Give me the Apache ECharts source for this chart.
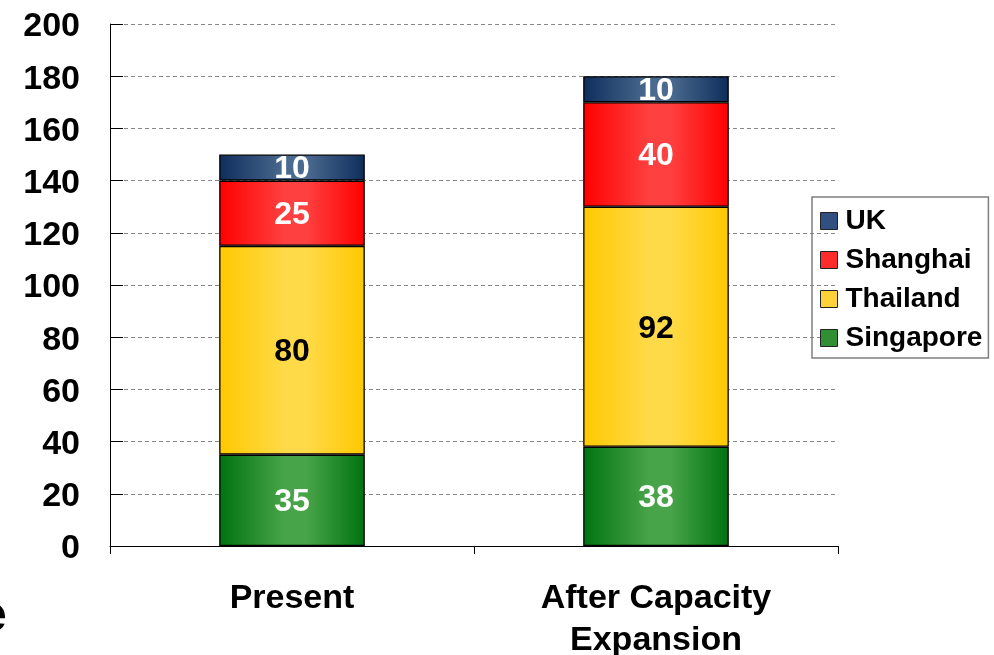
<!DOCTYPE html>
<html>
<head>
<meta charset="utf-8">
<script src="https://cdn.jsdelivr.net/npm/echarts@6/dist/echarts.min.js"></script>
<style>
  html, body { margin: 0; padding: 0; background: #fff; }
  #chart { width: 994px; height: 655px; }
</style>
</head>
<body>
<div id="chart"></div>
<script>
// Capacity by site, stacked per scenario
const categories = ['Present', 'After Capacity\nExpansion'];
const singapore = [35, 38];
const thailand = [80, 92];
const shanghai = [25, 40];
const uk = [10, 10];
const yTicks = { min: 0, max: 200, interval: 20 };

const FONT = '"Liberation Sans", Arial, sans-serif';

function hGrad(edge, mid) {
  return new echarts.graphic.LinearGradient(0, 0, 1, 0, [
    { offset: 0, color: edge },
    { offset: 0.45, color: mid },
    { offset: 0.6, color: mid },
    { offset: 1, color: edge }
  ]);
}

const palette = {
  Singapore: { fill: hGrad('#007310', '#48a448'), swatch: '#2f8f32', label: '#fff' },
  Thailand: { fill: hGrad('#ffc800', '#ffda48'), swatch: '#ffd23a', label: '#000' },
  Shanghai: { fill: hGrad('#ff0000', '#ff4040'), swatch: '#ff2a2a', label: '#fff' },
  UK: { fill: hGrad('#0f2d5c', '#4a6a8f'), swatch: '#2f5080', label: '#fff' }
};

function makeSeries(name, values) {
  const p = palette[name];
  return {
    name: name,
    type: 'bar',
    stack: 'total',
    barWidth: '40%',
    data: values,
    itemStyle: { color: p.fill, borderColor: '#000', borderWidth: 1.3 },
    label: {
      show: true,
      position: 'inside',
      offset: [0, 2],
      color: p.label,
      fontFamily: FONT,
      fontWeight: 'bold',
      fontSize: 32
    },
    emphasis: { disabled: true }
  };
}

const chart = echarts.init(document.getElementById('chart'));
chart.setOption({
  animation: false,
  grid: { left: 110, right: 156, top: 24, bottom: 109, containLabel: false, outerBoundsMode: 'none' },
  legend: {
    orient: 'vertical',
    left: 812,
    top: 197,
    data: ['UK', 'Shanghai', 'Thailand', 'Singapore'].map(n => ({
      name: n,
      itemStyle: { color: palette[n].swatch, borderColor: '#222', borderWidth: 1 }
    })),
    icon: 'rect',
    itemWidth: 17,
    itemHeight: 17,
    itemGap: 11,
    padding: [10, 6, 6, 8],
    borderColor: '#7f7f7f',
    borderWidth: 1.5,
    borderRadius: 0,
    textStyle: { fontFamily: FONT, fontWeight: 'bold', fontSize: 28, color: '#000', padding: [0, 0, 0, 3] }
  },
  xAxis: {
    type: 'category',
    data: categories,
    axisLine: { lineStyle: { color: '#000', width: 1 } },
    axisTick: { show: true, alignWithLabel: false, length: 8, lineStyle: { color: '#000' } },
    axisLabel: {
      color: '#000',
      fontFamily: FONT,
      fontWeight: 'bold',
      fontSize: 34,
      lineHeight: 42,
      margin: 32,
      verticalAlign: 'top'
    }
  },
  yAxis: {
    type: 'value',
    min: yTicks.min,
    max: yTicks.max,
    interval: yTicks.interval,
    axisLine: { show: true, lineStyle: { color: '#000', width: 1 } },
    axisTick: { show: true, inside: true, length: 13, lineStyle: { color: '#000' } },
    splitLine: { show: true, lineStyle: { color: '#888', type: [4, 3], width: 1 } },
    axisLabel: {
      color: '#000',
      margin: 30,
      formatter: '{v|{value}}',
      rich: {
        v: {
          fontFamily: FONT,
          fontWeight: 'bold',
          fontSize: 34,
          color: '#000',
          padding: [6, 0, 0, 0]
        }
      }
    }
  },
  graphic: [{
    type: 'text',
    left: -21,
    top: 592,
    style: { text: 'e', fontFamily: FONT, fontWeight: 'bold', fontSize: 50, fill: '#000' }
  }],
  series: [
    makeSeries('Singapore', singapore),
    makeSeries('Thailand', thailand),
    makeSeries('Shanghai', shanghai),
    makeSeries('UK', uk)
  ]
});
</script>
</body>
</html>
